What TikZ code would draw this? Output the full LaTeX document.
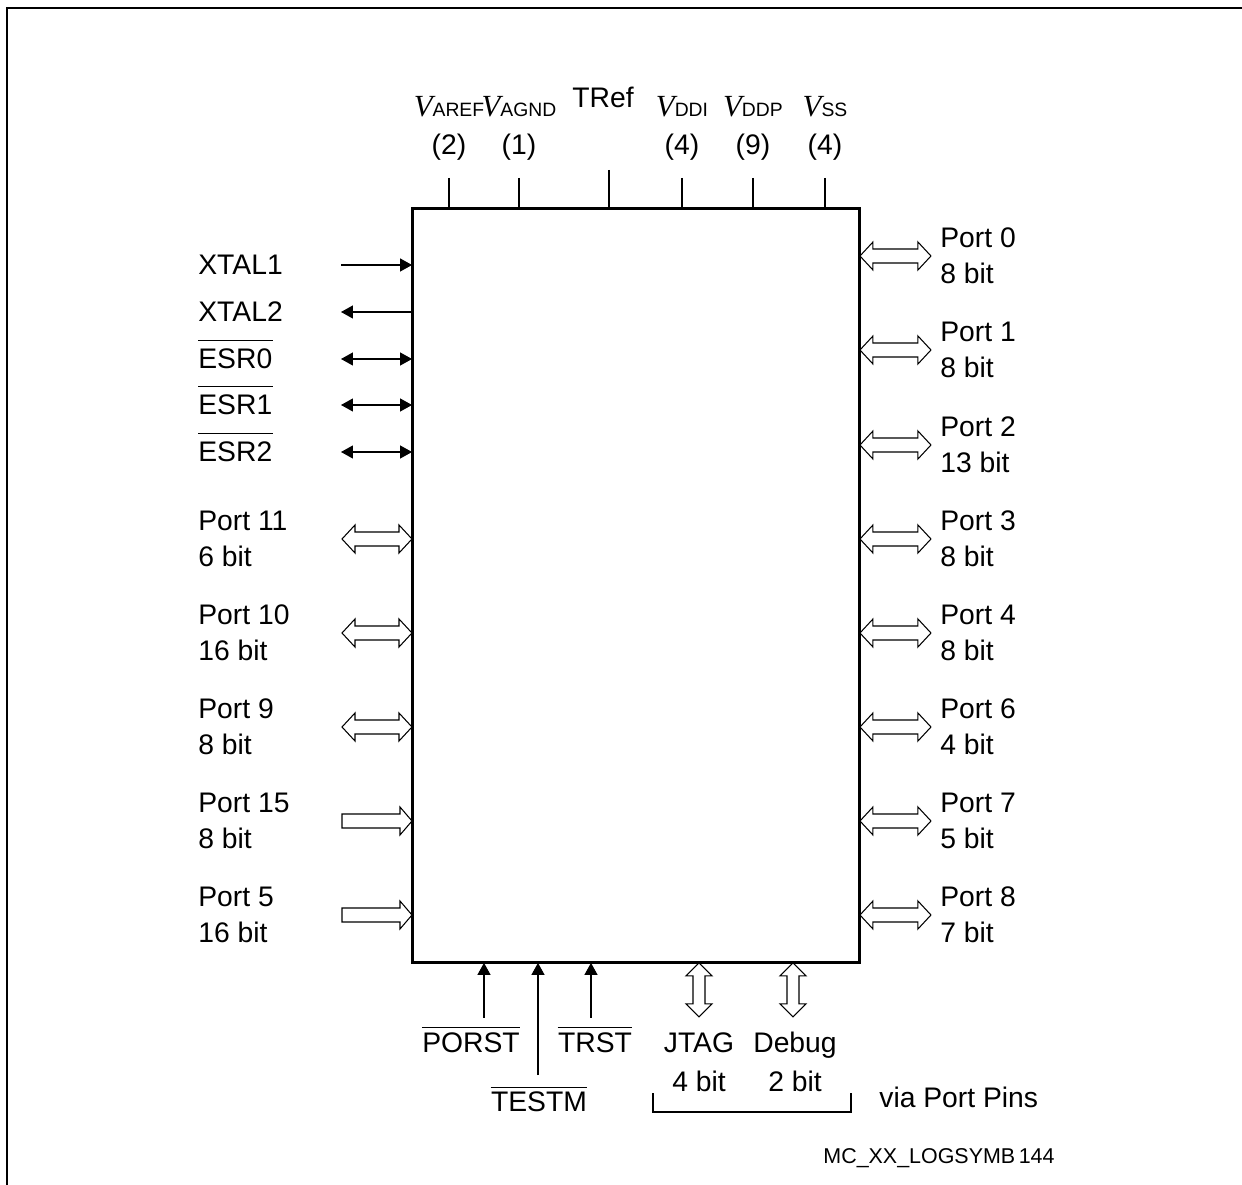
\documentclass[tikz,border=0pt]{standalone}
\usepackage{fontspec}
\setmainfont{Liberation Sans}
\newfontfamily\vserif{Liberation Serif}
\usetikzlibrary{arrows.meta}
\newcommand\Vsub[1]{{\fontsize{17.5}{20}\selectfont\vserif\itshape V}{\fontsize{11}{12}\selectfont #1}}
\tikzset{
  lbl/.style={font=\fontsize{16.1}{20.5}\selectfont,inner sep=0pt,align=left},
  chip/.style={draw,line width=1.7pt,outer sep=0pt,minimum width=8.96cm,minimum height=15.1cm},
  pinline/.style={line width=0.6pt},
  pinin/.style={pinline,-{Triangle[length=6.8pt,width=7.4pt]}},
  pinout/.style={pinline,{Triangle[length=6.8pt,width=7.4pt]}-},
  pinbi/.style={pinline,{Triangle[length=6.8pt,width=7.4pt]}-{Triangle[length=6.8pt,width=7.4pt]}},
  hol/.style={draw,fill=white,line width=0.6pt,line join=miter},
  pics/dblh/.style={code={\draw[hol] (0,0) -- (13,-14) -- (13,-7) -- (#1-13,-7) -- (#1-13,-14) -- (#1,0)
      -- (#1-13,14) -- (#1-13,7) -- (13,7) -- (13,14) -- cycle;}},
  pics/sngh/.style={code={\draw[hol] (0,-7) -- (#1-12,-7) -- (#1-12,-14) -- (#1,0) -- (#1-12,14)
      -- (#1-12,7) -- (0,7) -- cycle;}},
  pics/dblv/.style={code={\draw[hol] (0,0) -- (13,13) -- (6,13) -- (6,#1-13) -- (13,#1-13) -- (0,#1)
      -- (-13,#1-13) -- (-6,#1-13) -- (-6,13) -- (-13,13) -- cycle;}}
}
\begin{document}
\begin{tikzpicture}[x=0.02cm,y=-0.02cm]
\useasboundingbox (0,0) rectangle (1242,1185);
\draw[line width=1.1pt] (1242,8) -- (7,8) -- (7,1185);
\node[chip] (chip) at (636,585.5) {};

% supply pins on top
\foreach \x/\t/\n in {449/AREF/2,519/AGND/1,682/DDI/4,753/DDP/9,825/SS/4}{
  \node[lbl,anchor=base] (v\t) at (\x,117) {\Vsub{\t}};
  \node[lbl,anchor=base] (n\t) at (\x,155) {(\n)};
  \draw[pinline] (\x,178) coordinate (top\t) -- (chip.north -| top\t);
}
\node[lbl,anchor=base] (tref) at (603,108) {TRef};
\draw[pinline] (609,170) coordinate (topTRef) -- (chip.north -| topTRef);

% clock and ESR pins
\foreach \t/\y/\s in {XTAL1/265/pinin,XTAL2/312/pinout,ESR0/359/pinbi,ESR1/405/pinbi,ESR2/452/pinbi}{
  \node[lbl,anchor=base west] (\t) at (198,\y+10) {\t};
  \draw[\s] (341,\y) coordinate (e\t) -- (chip.west |- e\t);
}
\foreach \t in {ESR0,ESR1,ESR2}
  \draw[pinline] ([yshift=4.6pt]\t.north west) -- ([yshift=4.6pt]\t.north east);

% ports left
\foreach \n/\t/\b/\y/\k in {p11/Port 11/6 bit/539/dblh,p10/Port 10/16 bit/633/dblh,p9/Port 9/8 bit/727/dblh,
    p15/Port 15/8 bit/821/sngh,p5/Port 5/16 bit/915/sngh}{
  \node[lbl,anchor=base west] (\n) at (198,\y+28) {\t\\\b};
  \pic at (342,\y) {\k=70};
}

% ports right
\foreach \n/\t/\b/\y in {p0/Port 0/8 bit/256,p1/Port 1/8 bit/350,p2/Port 2/13 bit/445,p3/Port 3/8 bit/539,
    p4/Port 4/8 bit/633,p6/Port 6/4 bit/727,p7/Port 7/5 bit/821,p8/Port 8/7 bit/915}{
  \node[lbl,anchor=base west] (\n) at (940,\y+28) {\t\\\b};
  \pic at (chip.east |- 0,\y) {dblh=71};
}

% reset and test pins
\foreach \t/\x/\ya/\yb/\lx in {PORST/484/1018/1052/471,TESTM/538/1075/1112/539,TRST/591/1018/1052/595}{
  \node[lbl,anchor=base] (\t) at (\lx,\yb) {\t};
  \draw[pinin] (\x,\ya) coordinate (b\t) -- (chip.south -| b\t);
  \draw[pinline] ([yshift=2.6pt]\t.north west) -- ([yshift=2.6pt]\t.north east);
}

% JTAG / debug
\pic at (chip.south -| 699,0) {dblv=54};
\pic at (chip.south -| 793,0) {dblv=54};
\node[lbl,anchor=base,align=center] (jtag) at (699,1092) {JTAG\\[2pt]4 bit};
\node[lbl,anchor=base,align=center] (dbg) at (795,1092) {Debug\\[2pt]2 bit};
\draw[line width=1.4pt] (653,1093) -- (653,1112) -- (851,1112) -- (851,1093);
\node[lbl,anchor=base west] (via) at (879,1107) {via Port Pins};

\node[font=\fontsize{12.2}{14}\selectfont,inner sep=0pt,anchor=base] (fig) at (939,1163) {MC\_XX\_LOGSYMB\,144};
\end{tikzpicture}
\end{document}
